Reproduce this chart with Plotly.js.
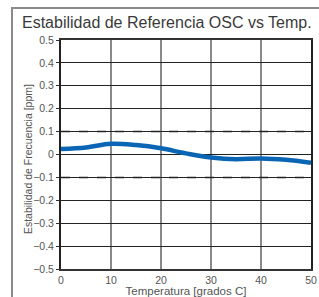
<!DOCTYPE html>
<html>
<head>
<meta charset="utf-8">
<script src="https://cdn.plot.ly/plotly-3.0.1.min.js"></script>
<style>
html,body{margin:0;padding:0;background:#fff;overflow:hidden;}
#frame{position:absolute;left:11px;top:7px;width:400px;height:400px;border-left:2px solid #8a8a8a;border-top:2px solid #8a8a8a;}
#chart{position:absolute;left:0;top:0;width:319px;height:297px;}
</style>
</head>
<body>
<div id="frame"></div>
<div id="chart"></div>
<script>
var temperature = [0, 5, 10, 15, 20, 25, 30, 35, 40, 45, 50];
var stability = [0.024, 0.031, 0.047, 0.041, 0.027, 0.005, -0.013, -0.021, -0.017, -0.023, -0.036];
var limitX = [0, 50];
var upperLimit = [0.1, 0.1];
var lowerLimit = [-0.1, -0.1];
var chartTitle = 'Estabilidad de Referencia OSC vs Temp.';
var xTitle = 'Temperatura [grados C]';
var yTitle = 'Estabilidad de Frecuencia [ppm]';

var traces = [
  {x: limitX, y: upperLimit, mode: 'lines', line: {color: '#222', width: 1.5, dash: 'dash'}, hoverinfo: 'skip'},
  {x: limitX, y: lowerLimit, mode: 'lines', line: {color: '#222', width: 1.5, dash: 'dash'}, hoverinfo: 'skip'},
  {x: temperature, y: stability, mode: 'lines', line: {color: '#0a66b5', width: 4.5, shape: 'spline', smoothing: 1}}
];

var layout = {
  width: 319, height: 297,
  margin: {l: 61, r: 8, t: 40, b: 28},
  paper_bgcolor: 'rgba(0,0,0,0)',
  plot_bgcolor: '#fff',
  showlegend: false,
  font: {family: 'Liberation Sans, Arial, sans-serif', color: '#555'},
  title: {
    text: chartTitle,
    font: {size: 16, color: '#3a3a3a', family: 'Liberation Sans, Arial, sans-serif'},
    x: 22/319, xanchor: 'left', xref: 'container',
    y: 1 - 22/297, yanchor: 'middle', yref: 'container'
  },
  xaxis: {
    range: [0, 50], dtick: 10, tick0: 0,
    showgrid: true, gridcolor: '#8a8a8a', gridwidth: 2,
    zeroline: false,
    showline: true, linecolor: '#333', linewidth: 2, mirror: true,
    ticks: '', tickfont: {size: 10.5, color: '#555'},
    title: {text: xTitle, font: {size: 11.5, color: '#555'}, standoff: 4}
  },
  yaxis: {
    range: [-0.5, 0.5], dtick: 0.1, tick0: 0,
    showgrid: true, gridcolor: '#222', gridwidth: 1,
    zeroline: false,
    showline: true, linecolor: '#222', linewidth: 2, mirror: true,
    ticks: 'outside', ticklen: 3, tickcolor: '#333',
    tickfont: {size: 10.5, color: '#555'}
  },
  annotations: [{
    text: yTitle, textangle: -90, showarrow: false,
    xref: 'paper', yref: 'paper', x: (28 - 61) / 250, y: 0.48,
    xanchor: 'center', yanchor: 'middle',
    font: {size: 10.5, color: '#555'}
  }]
};

Plotly.newPlot('chart', traces, layout, {displayModeBar: false, staticPlot: true});
</script>
</body>
</html>
